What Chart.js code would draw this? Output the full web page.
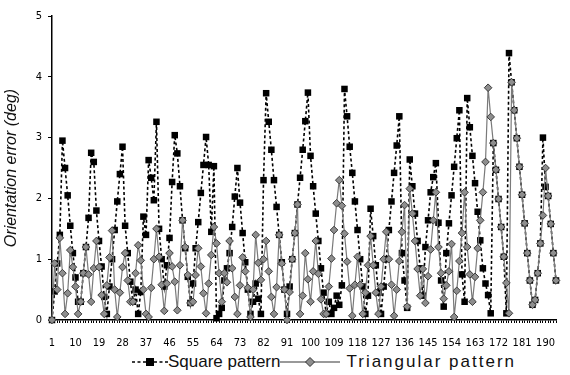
<!DOCTYPE html>
<html>
<head>
<meta charset="utf-8">
<script src="https://cdn.jsdelivr.net/npm/chart.js@4.4.1/dist/chart.umd.min.js"></script>
<style>
    html, body { margin: 0; padding: 0; background: #fff; }
    #wrap { position: relative; width: 570px; height: 375px; overflow: hidden; }
    #chartBox { position: absolute; left: 0; top: 0; width: 570px; height: 352px; }
    #legend {
        position: absolute; left: 132px; top: 352px;
        display: flex; align-items: center; white-space: nowrap;
        font: 17px 'Liberation Sans', Arial, sans-serif; color: #111;
    }
    #legend svg { display: block; }
    #legend .tri { letter-spacing: 2px; margin-left: 6px; }
</style>
</head>
<body>
<div id="wrap">
    <div id="chartBox"><canvas id="errorChart"></canvas></div>
    <div id="legend">
        <svg width="36" height="12"><line x1="0" y1="6" x2="36" y2="6" stroke="#000" stroke-width="1.5" stroke-dasharray="3,2.5"/><rect x="14" y="2" width="8" height="8" fill="#000"/></svg>
        <span>Square pattern</span>
        <svg width="60" height="12"><line x1="0" y1="6" x2="60" y2="6" stroke="#777" stroke-width="1.3"/><path d="M30 1.5 L34.5 6 L30 10.5 L25.5 6 Z" fill="#8e8e8e" stroke="#333" stroke-width="1"/></svg>
        <span class="tri">Triangular pattern</span>
    </div>
</div>
<script>
// sample index along the path
const sampleCount = 194;
const samples = Array.from({ length: sampleCount }, (_, i) => String(i + 1));
const shownTicks = ['1', '10', '19', '28', '37', '46', '55', '64', '73', '82', '91',
    '100', '109', '118', '127', '136', '145', '154', '163', '172', '181', '190'];

// orientation error (deg)
const squareErr = [
    0, 0.47, 0.93, 1.4, 2.95, 2.5, 2.05, 1.55, 1.1, 0.7,
    0.3, 0.3, 0.77, 1.2, 1.68, 2.75, 2.6, 1.8, 1.3, 0.88,
    0.38, 0.1, 0.55, 1.0, 1.48, 1.95, 2.4, 2.85, 1.55, 1.1,
    0.63, 0.3, 0.5, 0.1, 0.46, 1.7, 1.4, 2.63, 2.34, 1.97,
    3.26, 1.5, 1.0, 0.55, 0.9, 1.35, 2.27, 3.04, 2.74, 2.2,
    1.64, 1.18, 0.71, 0.28, 0.6, 1.18, 1.61, 2.09, 2.55, 3.01,
    2.55, 1.45, 2.53, 0.03, 0.1, 0.2, 0.65, 0.85, 1.1, 1.53,
    2.03, 2.5, 1.93, 1.43, 0.95, 0.5, 0.1, 0.3, 0.6, 0.35,
    0.1, 2.3, 3.73, 3.26, 2.8, 2.3, 1.86, 1.4, 0.95, 0.5,
    0.1, 0.55, 1.0, 1.43, 1.9, 2.34, 2.8, 3.27, 3.74, 2.7,
    2.2, 1.75, 1.3, 0.85, 0.45, 0.1, 0.3, 0.1, 0.2, 0.4,
    0.25, 0.57, 3.8, 3.35, 2.85, 2.42, 1.95, 1.48, 1.0, 0.55,
    0.1, 0.4, 1.83, 1.38, 0.9, 0.45, 0.1, 0.55, 1.0, 1.48,
    1.95, 2.42, 2.87, 3.35, 1.1, 0.65, 0.2, 2.64, 2.2, 1.75,
    1.3, 0.85, 0.4, 1.2, 1.64, 2.1, 2.35, 2.58, 1.6, 0.65,
    0.22, 1.1, 1.59, 2.05, 2.52, 2.99, 3.45, 0.75, 0.3, 3.65,
    3.17, 2.7, 2.25, 1.78, 1.31, 0.85, 0.6, 0.41, 0.11, 2.91,
    2.47, 1.99, 1.53, 1.04, 0.11, 4.39, 3.91, 3.45, 2.99, 2.52,
    2.06, 1.59, 1.1, 0.65, 0.25, 0.33, 0.77, 1.26, 3.0, 2.19,
    2.04, 1.58, 1.1, 0.65
];

const triangleErr = [
    0, 0.93, 0.5, 1.35, 0.77, 0.1, 0.44, 1.15, 0.87, 0.55,
    0.1, 0.3, 0.77, 1.2, 0.75, 0.3, 0.85, 1.3, 0.87, 0.41,
    0.1, 0.57, 1.03, 1.47, 0.5, 0.05, 0.45, 0.87, 1.1, 0.65,
    0.3, 0.3, 0.77, 1.23, 0.98, 0.5, 0.1, 0.05, 0.53, 1.0,
    1.5, 1.04, 0.58, 0.15, 0.6, 1.1, 0.88, 0.63, 0.16, 0.9,
    1.64, 1.2, 0.74, 0.28, 0.3, 0.74, 1.18, 0.88, 0.44, 0.11,
    0.6, 1.07, 1.53, 1.26, 0.77, 0.3, 0.77, 0.62, 1.3, 0.85,
    0.38, 0.1, 0.57, 1.03, 0.8, 0.53, 0.05, 0.5, 1.4, 0.94,
    0.66, 1.0, 1.3, 0.8, 0.38, 0.1, 0.54, 1.4, 0.93, 0.5,
    0, 0.46, 1.0, 1.43, 1.9, 0.1, 0.4, 1.1, 0.67, 0.3,
    0.8, 1.3, 0.76, 0.34, 0.1, 0.1, 0.55, 1.01, 1.48, 1.92,
    2.3, 1.88, 1.42, 0.96, 0.52, 0.07, 0.58, 1.04, 0.58, 0.1,
    0.45, 0.9, 1.38, 0.9, 0.45, 0.1, 0.55, 1.0, 1.45, 1.0,
    0.58, 0.07, 0.5, 0.97, 1.45, 1.89, 0.22, 2.16, 1.75, 1.3,
    0.84, 0.4, 0.84, 0.28, 0.72, 1.16, 1.64, 2.1, 1.2, 0.77,
    0.35, 0.57, 0.8, 1.25, 0.05, 0.48, 0.97, 1.43, 2.1, 1.2,
    0.75, 0.3, 0.71, 1.18, 1.64, 2.1, 2.6, 3.82, 3.34, 2.91,
    2.47, 1.99, 1.53, 1.04, 0.61, 0.11, 3.91, 3.45, 2.99, 2.52,
    2.06, 1.59, 1.1, 0.65, 0.25, 0.33, 0.77, 1.26, 1.72, 2.5,
    2.04, 1.58, 1.1, 0.65
];

const tickFont = { family: "'Liberation Sans Narrow', 'DejaVu Sans Condensed', Arial, sans-serif", size: 11 };

document.addEventListener('DOMContentLoaded', function() {
    const ctx = document.getElementById('errorChart');
    new Chart(ctx, {
        type: 'line',
        data: {
            labels: samples,
            datasets: [{
                label: 'Square pattern',
                data: squareErr,
                borderColor: '#000',
                borderWidth: 1.6,
                borderDash: [3, 2.5],
                pointStyle: 'rect',
                pointRadius: 4.6,
                pointBackgroundColor: '#000',
                pointBorderColor: '#000',
                pointBorderWidth: 0,
                tension: 0,
                fill: false,
                clip: false,
                order: 2
            }, {
                label: 'Triangular pattern',
                data: triangleErr,
                borderColor: '#7a7a7a',
                borderWidth: 1.2,
                pointStyle: 'rectRot',
                pointRadius: 3.8,
                pointBackgroundColor: '#8e8e8e',
                pointBorderColor: '#3a3a3a',
                pointBorderWidth: 1,
                tension: 0,
                fill: false,
                clip: false,
                order: 1
            }]
        },
        options: {
            responsive: true,
            maintainAspectRatio: false,
            animation: false,
            layout: { padding: { top: 16, right: 2, left: 0, bottom: 0 } },
            plugins: {
                legend: { display: false },
                tooltip: { enabled: false }
            },
            scales: {
                x: {
                    offset: false,
                    afterFit: function(scale) { scale.height = 32; },
                    grid: {
                        drawOnChartArea: false,
                        drawTicks: true,
                        tickLength: 3,
                        color: '#000'
                    },
                    border: { display: true, color: '#000', width: 1.5 },
                    ticks: {
                        autoSkip: false,
                        maxRotation: 0,
                        padding: 14,
                        color: '#000',
                        font: tickFont,
                        callback: function(value) {
                            const lab = this.getLabelForValue(value);
                            return shownTicks.includes(lab) ? lab : '';
                        }
                    }
                },
                y: {
                    min: 0,
                    max: 5,
                    afterFit: function(scale) { scale.width = 52; },
                    grid: {
                        drawOnChartArea: false,
                        drawTicks: true,
                        tickLength: 4,
                        color: '#000'
                    },
                    border: { display: true, color: '#000', width: 1.5 },
                    ticks: {
                        stepSize: 1,
                        padding: 6,
                        color: '#000',
                        font: tickFont
                    },
                    title: {
                        display: true,
                        text: 'Orientation error (deg)',
                        color: '#111',
                        padding: { top: 2, bottom: 0 },
                        font: { family: "'Liberation Sans', Arial, sans-serif", size: 16, style: 'italic' }
                    }
                }
            }
        }
    });
});
</script>
</body>
</html>
